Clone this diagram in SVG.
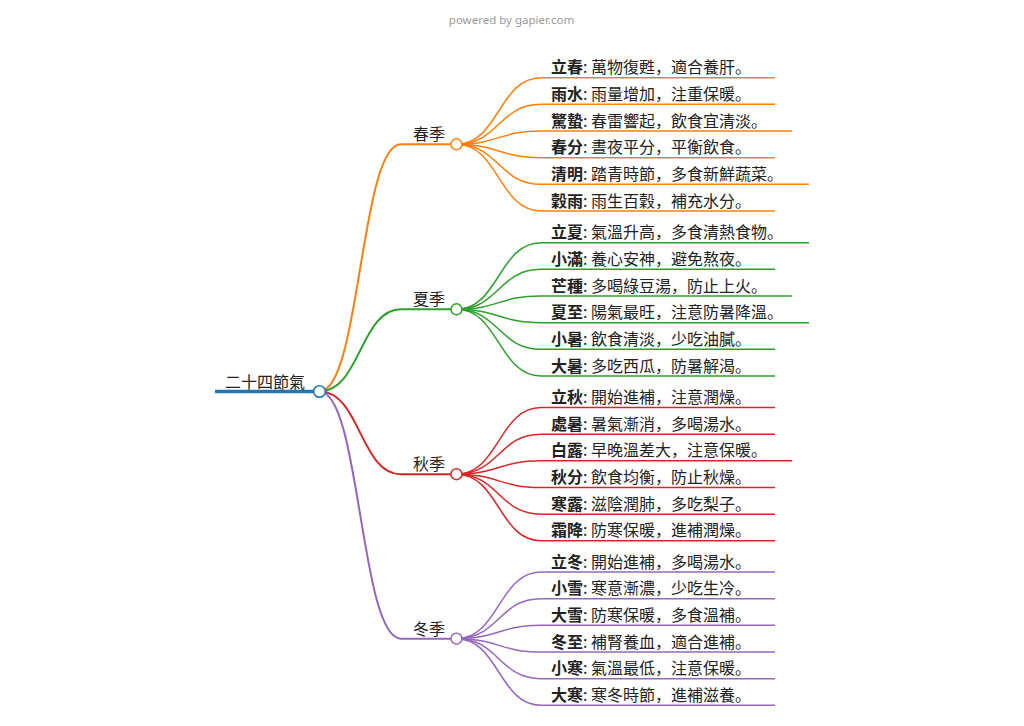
<svg xmlns="http://www.w3.org/2000/svg" width="1024" height="726" viewBox="0 0 1024 726">
<style>
text{font-family:"Noto Sans CJK SC","Noto Sans CJK TC",sans-serif;font-size:16px;fill:#222}
.b{font-weight:bold}
.wm{font-family:"Noto Sans","Open Sans",sans-serif;font-size:11.5px;fill:#999}
path,line{fill:none}
.lk0{stroke-width:2}
.lk1{stroke-width:1.5}
.ln1{stroke-width:2}
.ln2{stroke-width:1.5}
circle{fill:#fff;stroke-width:1.5}
.c0{stroke:#1f77b4}
.c1{stroke:#ff7f0e}
.c2{stroke:#2ca02c}
.c3{stroke:#d62728}
.c4{stroke:#9467bd}
</style>
<rect width="1024" height="726" fill="#fff"/>
<text class="wm" x="511.5" y="24" text-anchor="middle">powered by gapier.com</text>
<g id="connectors">
<path class="lk0 c1" d="M319.5,391.5 C360.25,391.5 360.25,144.3 401,144.3"/>
<path class="lk0 c2" d="M319.5,391.5 C360.25,391.5 360.25,309.3 401,309.3"/>
<path class="lk0 c3" d="M319.5,391.5 C360.25,391.5 360.25,474.2 401,474.2"/>
<path class="lk0 c4" d="M319.5,391.5 C360.25,391.5 360.25,638.7 401,638.7"/>
<g class="c1 lk1">
<path d="M456.5,144.3 C498.75,144.3 498.75,77.7 541,77.7"/>
<path d="M456.5,144.3 C498.75,144.3 498.75,104.3 541,104.3"/>
<path d="M456.5,144.3 C498.75,144.3 498.75,131 541,131"/>
<path d="M456.5,144.3 C498.75,144.3 498.75,157.7 541,157.7"/>
<path d="M456.5,144.3 C498.75,144.3 498.75,184.3 541,184.3"/>
<path d="M456.5,144.3 C498.75,144.3 498.75,211 541,211"/>
</g>
<g class="c2 lk1">
<path d="M456.5,309.3 C498.75,309.3 498.75,242.7 541,242.7"/>
<path d="M456.5,309.3 C498.75,309.3 498.75,269.3 541,269.3"/>
<path d="M456.5,309.3 C498.75,309.3 498.75,296 541,296"/>
<path d="M456.5,309.3 C498.75,309.3 498.75,322.7 541,322.7"/>
<path d="M456.5,309.3 C498.75,309.3 498.75,349.3 541,349.3"/>
<path d="M456.5,309.3 C498.75,309.3 498.75,376 541,376"/>
</g>
<g class="c3 lk1">
<path d="M456.5,474.2 C498.75,474.2 498.75,407.5 541,407.5"/>
<path d="M456.5,474.2 C498.75,474.2 498.75,434.2 541,434.2"/>
<path d="M456.5,474.2 C498.75,474.2 498.75,460.8 541,460.8"/>
<path d="M456.5,474.2 C498.75,474.2 498.75,487.5 541,487.5"/>
<path d="M456.5,474.2 C498.75,474.2 498.75,514.2 541,514.2"/>
<path d="M456.5,474.2 C498.75,474.2 498.75,540.8 541,540.8"/>
</g>
<g class="c4 lk1">
<path d="M456.5,638.7 C498.75,638.7 498.75,572 541,572"/>
<path d="M456.5,638.7 C498.75,638.7 498.75,598.7 541,598.7"/>
<path d="M456.5,638.7 C498.75,638.7 498.75,625.3 541,625.3"/>
<path d="M456.5,638.7 C498.75,638.7 498.75,652 541,652"/>
<path d="M456.5,638.7 C498.75,638.7 498.75,678.7 541,678.7"/>
<path d="M456.5,638.7 C498.75,638.7 498.75,705.3 541,705.3"/>
</g>
</g>
<g id="root">
<line class="c0" stroke-width="3.5" x1="215" y1="391.5" x2="319.5" y2="391.5"/>
<text x="225" y="387.5">二十四節氣</text>
<circle class="c0" cx="319.5" cy="391.5" r="5.8"/>
</g>
<g id="spring">
<line class="c1 ln1" x1="401" y1="144.3" x2="456.5" y2="144.3"/>
<text x="413" y="140.3">春季</text>
<circle class="c1" cx="456.5" cy="144.3" r="5.5"/>
</g>
<g id="summer">
<line class="c2 ln1" x1="401" y1="309.3" x2="456.5" y2="309.3"/>
<text x="413" y="305.3">夏季</text>
<circle class="c2" cx="456.5" cy="309.3" r="5.5"/>
</g>
<g id="autumn">
<line class="c3 ln1" x1="401" y1="474.2" x2="456.5" y2="474.2"/>
<text x="413" y="470.2">秋季</text>
<circle class="c3" cx="456.5" cy="474.2" r="5.5"/>
</g>
<g id="winter">
<line class="c4 ln1" x1="401" y1="638.7" x2="456.5" y2="638.7"/>
<text x="413" y="634.7">冬季</text>
<circle class="c4" cx="456.5" cy="638.7" r="5.5"/>
</g>
<g id="spring-leaves">
<g id="lichun"><line class="c1 ln2" x1="541" y1="77.7" x2="775" y2="77.7"/><text x="551" y="73.2"><tspan class="b">立春</tspan>: 萬物復甦，適合養肝。</text></g>
<g id="yushui"><line class="c1 ln2" x1="541" y1="104.3" x2="775" y2="104.3"/><text x="551" y="99.8"><tspan class="b">雨水</tspan>: 雨量增加，注重保暖。</text></g>
<g id="jingzhe"><line class="c1 ln2" x1="541" y1="131" x2="792" y2="131"/><text x="551" y="126.5"><tspan class="b">驚蟄</tspan>: 春雷響起，飲食宜清淡。</text></g>
<g id="chunfen"><line class="c1 ln2" x1="541" y1="157.7" x2="775" y2="157.7"/><text x="551" y="153.2"><tspan class="b">春分</tspan>: 晝夜平分，平衡飲食。</text></g>
<g id="qingming"><line class="c1 ln2" x1="541" y1="184.3" x2="809" y2="184.3"/><text x="551" y="179.8"><tspan class="b">清明</tspan>: 踏青時節，多食新鮮蔬菜。</text></g>
<g id="guyu"><line class="c1 ln2" x1="541" y1="211" x2="775" y2="211"/><text x="551" y="206.5"><tspan class="b">穀雨</tspan>: 雨生百穀，補充水分。</text></g>
</g>
<g id="summer-leaves">
<g id="lixia"><line class="c2 ln2" x1="541" y1="242.7" x2="809" y2="242.7"/><text x="551" y="238.2"><tspan class="b">立夏</tspan>: 氣溫升高，多食清熱食物。</text></g>
<g id="xiaoman"><line class="c2 ln2" x1="541" y1="269.3" x2="775" y2="269.3"/><text x="551" y="264.8"><tspan class="b">小滿</tspan>: 養心安神，避免熬夜。</text></g>
<g id="mangzhong"><line class="c2 ln2" x1="541" y1="296" x2="792" y2="296"/><text x="551" y="291.5"><tspan class="b">芒種</tspan>: 多喝綠豆湯，防止上火。</text></g>
<g id="xiazhi"><line class="c2 ln2" x1="541" y1="322.7" x2="809" y2="322.7"/><text x="551" y="318.2"><tspan class="b">夏至</tspan>: 陽氣最旺，注意防暑降溫。</text></g>
<g id="xiaoshu"><line class="c2 ln2" x1="541" y1="349.3" x2="775" y2="349.3"/><text x="551" y="344.8"><tspan class="b">小暑</tspan>: 飲食清淡，少吃油膩。</text></g>
<g id="dashu"><line class="c2 ln2" x1="541" y1="376" x2="775" y2="376"/><text x="551" y="371.5"><tspan class="b">大暑</tspan>: 多吃西瓜，防暑解渴。</text></g>
</g>
<g id="autumn-leaves">
<g id="liqiu"><line class="c3 ln2" x1="541" y1="407.5" x2="775" y2="407.5"/><text x="551" y="403"><tspan class="b">立秋</tspan>: 開始進補，注意潤燥。</text></g>
<g id="chushu"><line class="c3 ln2" x1="541" y1="434.2" x2="775" y2="434.2"/><text x="551" y="429.7"><tspan class="b">處暑</tspan>: 暑氣漸消，多喝湯水。</text></g>
<g id="bailu"><line class="c3 ln2" x1="541" y1="460.8" x2="792" y2="460.8"/><text x="551" y="456.3"><tspan class="b">白露</tspan>: 早晚溫差大，注意保暖。</text></g>
<g id="qiufen"><line class="c3 ln2" x1="541" y1="487.5" x2="775" y2="487.5"/><text x="551" y="483"><tspan class="b">秋分</tspan>: 飲食均衡，防止秋燥。</text></g>
<g id="hanlu"><line class="c3 ln2" x1="541" y1="514.2" x2="775" y2="514.2"/><text x="551" y="509.7"><tspan class="b">寒露</tspan>: 滋陰潤肺，多吃梨子。</text></g>
<g id="shuangjiang"><line class="c3 ln2" x1="541" y1="540.8" x2="775" y2="540.8"/><text x="551" y="536.3"><tspan class="b">霜降</tspan>: 防寒保暖，進補潤燥。</text></g>
</g>
<g id="winter-leaves">
<g id="lidong"><line class="c4 ln2" x1="541" y1="572" x2="775" y2="572"/><text x="551" y="567.5"><tspan class="b">立冬</tspan>: 開始進補，多喝湯水。</text></g>
<g id="xiaoxue"><line class="c4 ln2" x1="541" y1="598.7" x2="775" y2="598.7"/><text x="551" y="594.2"><tspan class="b">小雪</tspan>: 寒意漸濃，少吃生冷。</text></g>
<g id="daxue"><line class="c4 ln2" x1="541" y1="625.3" x2="775" y2="625.3"/><text x="551" y="620.8"><tspan class="b">大雪</tspan>: 防寒保暖，多食溫補。</text></g>
<g id="dongzhi"><line class="c4 ln2" x1="541" y1="652" x2="775" y2="652"/><text x="551" y="647.5"><tspan class="b">冬至</tspan>: 補腎養血，適合進補。</text></g>
<g id="xiaohan"><line class="c4 ln2" x1="541" y1="678.7" x2="775" y2="678.7"/><text x="551" y="674.2"><tspan class="b">小寒</tspan>: 氣溫最低，注意保暖。</text></g>
<g id="dahan"><line class="c4 ln2" x1="541" y1="705.3" x2="775" y2="705.3"/><text x="551" y="700.8"><tspan class="b">大寒</tspan>: 寒冬時節，進補滋養。</text></g>
</g>
</svg>
